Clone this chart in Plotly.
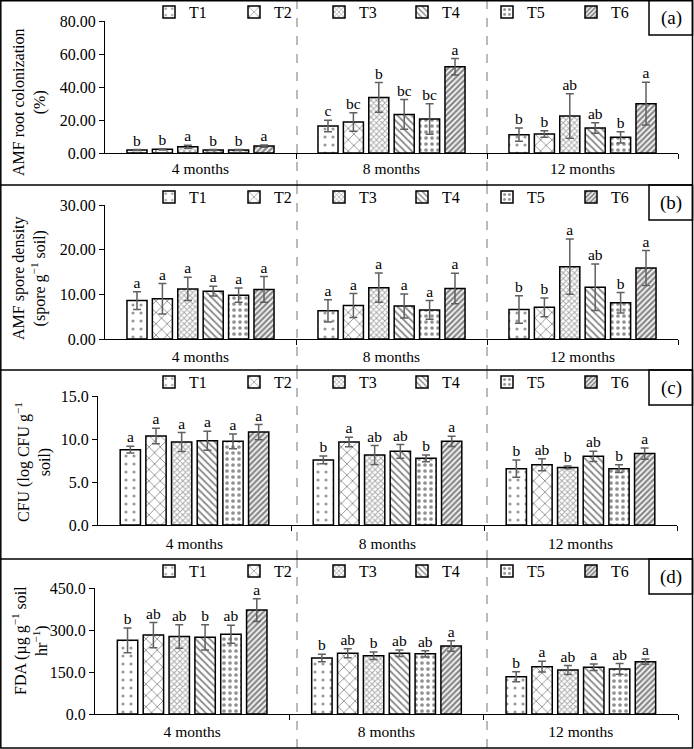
import plotly.graph_objects as go

W, H = 694, 749
FONT = "Liberation Serif, Times New Roman, serif"

months = ["4 months", "8 months", "12 months"]
treatments = ["T1", "T2", "T3", "T4", "T5", "T6"]

# (a) AMF root colonization (%) -- rows: T1..T6, columns: 4, 8, 12 months
a_mean = [[1.8, 16.4, 11.1], [2.2, 18.8, 11.5], [3.8, 33.7, 22.4],
          [1.8, 23.4, 15.2], [1.8, 20.6, 9.5], [4.2, 52.3, 29.9]]
a_err = [[0.3, 3.5, 4.0], [0.4, 5.6, 2.0], [0.9, 9.0, 13.5],
         [0.3, 9.0, 3.2], [0.3, 9.3, 3.4], [0.7, 5.0, 13.0]]
a_let = [["b", "c", "b"], ["b", "bc", "b"], ["a", "b", "ab"],
         ["b", "bc", "ab"], ["b", "bc", "b"], ["a", "a", "a"]]

# (b) AMF spore density
b_mean = [[8.6, 6.3, 6.6], [9.0, 7.5, 7.1], [11.2, 11.5, 16.2],
          [10.7, 7.4, 11.6], [9.8, 6.5, 8.1], [11.1, 11.3, 15.9]]
b_err = [[2.0, 2.5, 3.1], [3.4, 2.7, 2.1], [2.6, 3.3, 6.2],
         [1.1, 2.7, 5.2], [1.6, 2.1, 2.3], [2.9, 3.4, 3.9]]
b_let = [["a", "a", "b"], ["a", "a", "b"], ["a", "a", "a"],
         ["a", "a", "ab"], ["a", "a", "b"], ["a", "a", "a"]]

# (c) CFU
c_mean = [[8.76, 7.56, 6.55], [10.35, 9.65, 7.0], [9.65, 8.14, 6.7],
          [9.8, 8.57, 7.98], [9.73, 7.75, 6.55], [10.8, 9.73, 8.3]]
c_err = [[0.4, 0.45, 1.0], [0.9, 0.55, 0.7], [1.1, 1.1, 0.15],
         [1.1, 0.8, 0.6], [0.85, 0.4, 0.45], [0.9, 0.6, 0.65]]
c_let = [["a", "b", "b"], ["a", "a", "ab"], ["a", "ab", "b"],
         ["a", "ab", "ab"], ["a", "b", "b"], ["a", "a", "a"]]

# (d) FDA
d_mean = [[263, 200, 133], [282, 217, 169], [277, 208, 157],
          [274, 217, 167], [285, 215, 161], [371, 243, 187]]
d_err = [[44, 13, 18], [45, 16, 19], [42, 13, 16],
         [45, 12, 12], [32, 11, 19], [41, 19, 9]]
d_let = [["b", "b", "b"], ["ab", "ab", "a"], ["ab", "b", "ab"],
         ["b", "ab", "a"], ["ab", "ab", "ab"], ["a", "a", "a"]]

y_titles = ["AMF root colonization<br>(%)",
            "AMF spore density<br>(spore g<sup>\u22121</sup> soil)",
            "CFU (log CFU g<sup>\u22121</sup><br>soil)",
            "FDA (\u00b5g g<sup>\u22121</sup> soil<br>hr<sup>\u22121</sup>)"]
panel_labels = ["(a)", "(b)", "(c)", "(d)"]
y_max = [80, 30, 15, 450]
y_dtick = [20, 10, 5, 150]
y_fmt = [".2f", ".2f", ".1f", ".1f"]

# styles
patterns = [
    dict(shape=".", size=8, solidity=0.12, fgcolor="#333"),
    dict(shape="x", size=8, solidity=0.2, fgcolor="#111"),
    dict(shape="x", size=4, solidity=0.45, fgcolor="#555"),
    dict(shape="\\", size=5, solidity=0.35, fgcolor="#111"),
    dict(shape=".", size=6, solidity=0.3, fgcolor="#222"),
    dict(shape="/", size=4, solidity=0.6, fgcolor="#111"),
]
legend_x = [149, 234, 319, 402, 487, 571]   # pixel left of each legend entry

# layout geometry (pixels)
geo = [
    dict(x0=105, x1=678, y0=153, y1=21, top=0, bot=185, tx=30, ty=102, std=1),
    dict(x0=105, x1=678, y0=339, y1=205, top=185, bot=370, tx=29, ty=278, std=3),
    dict(x0=98, x1=677, y0=525, y1=396, top=370, bot=559, tx=33, ty=462, std=4),
    dict(x0=95, x1=678, y0=714, y1=588, top=559, bot=748, tx=30, ty=641, std=3),
]


def px(x):
    return x / W


def py(y):
    return 1 - y / H


PITCH, BW = 0.133, 0.105
means = [a_mean, b_mean, c_mean, d_mean]
errs = [a_err, b_err, c_err, d_err]
lets = [a_let, b_let, c_let, d_let]

fig = go.Figure()
layout = dict(template="none", width=W, height=H, autosize=False,
              margin=dict(l=0, r=0, t=0, b=0, pad=0, autoexpand=False),
              paper_bgcolor="white", plot_bgcolor="rgba(0,0,0,0)",
              barmode="overlay", font=dict(family=FONT, size=16, color="black"),
              shapes=[], annotations=[])

for p in range(4):
    sfx = "" if p == 0 else str(p + 1)
    xa, ya = "x" + sfx, "y" + sfx
    g = geo[p]
    for i, t in enumerate(treatments):
        k = p * 6 + i
        lg = "legend" if k == 0 else "legend%d" % (k + 1)
        xs = [m + (i - 2.5) * PITCH for m in range(len(months))]
        fig.add_trace(go.Bar(
            x=xs, y=means[p][i], width=BW, name=t, legend=lg, xaxis=xa, yaxis=ya,
            marker=dict(color="white", line=dict(color="black", width=1.5),
                        pattern=dict(bgcolor="white", fillmode="overlay", **patterns[i])),
            error_y=dict(type="data", array=errs[p][i], color="#606060",
                         thickness=1.5, width=4),
            showlegend=True, hoverinfo="skip"))
        fig.add_trace(go.Scatter(
            x=xs, y=[m + e for m, e in zip(means[p][i], errs[p][i])],
            text=lets[p][i], mode="text", textposition="top center",
            textfont=dict(family=FONT, size=15.5, color="black"),
            xaxis=xa, yaxis=ya, showlegend=False, cliponaxis=False, hoverinfo="skip"))
        layout[lg] = dict(orientation="h", xref="container", yref="container",
                          x=px(legend_x[i]), xanchor="left",
                          y=py(g["top"] + 12), yanchor="middle",
                          bgcolor="rgba(0,0,0,0)", borderwidth=0,
                          font=dict(family=FONT, size=16, color="black"))

    layout["xaxis" + sfx] = dict(
        domain=[px(g["x0"]), px(g["x1"])], range=[-0.5, 2.5], anchor=ya,
        automargin=False,
        tickmode="array", tickvals=list(range(len(months))), ticktext=months,
        ticks="", ticklabelstandoff=g["std"], showline=True, linecolor="black",
        linewidth=1.3, showgrid=False, zeroline=False,
        tickfont=dict(family=FONT, size=15.5, color="black"),
        minor=dict(tickmode="array", tickvals=[0.5, 1.5, 2.5], ticks="outside",
                   ticklen=5, tickwidth=1.3, tickcolor="black", showgrid=False))
    layout["yaxis" + sfx] = dict(
        domain=[py(g["y0"]), py(g["y1"])], range=[0, y_max[p]], anchor=xa,
        automargin=False,
        dtick=y_dtick[p], tick0=0, tickformat=y_fmt[p], ticks="outside", ticklen=5,
        tickwidth=1.3, tickcolor="black", showline=True, linecolor="black",
        linewidth=1.3, showgrid=False, zeroline=False,
        tickfont=dict(family=FONT, size=16, color="black"))
    # y title
    layout["annotations"].append(dict(
        text=y_titles[p], xref="paper", yref="paper", x=px(g["tx"]), y=py(g["ty"]),
        xanchor="center", yanchor="middle", textangle=-90, showarrow=False,
        font=dict(family=FONT, size=16, color="black")))
    # panel label box
    layout["shapes"].append(dict(type="rect", xref="paper", yref="paper",
                                 x0=px(649), x1=px(692.5), y0=py(g["top"]), y1=py(g["top"] + 35),
                                 line=dict(color="black", width=1.5)))
    layout["annotations"].append(dict(
        text=panel_labels[p], xref="paper", yref="paper", x=px(671), y=py(g["top"] + 18),
        xanchor="center", yanchor="middle", showarrow=False,
        font=dict(family=FONT, size=19, color="black")))
    # dashed separators
    for xs_ in (297, 487):
        layout["shapes"].append(dict(type="line", xref="paper", yref="paper",
                                     x0=px(xs_), x1=px(xs_), y0=py(g["top"]), y1=py(g["bot"]),
                                     line=dict(color="#777", width=1, dash="dash")))
    # panel separators
    if p > 0:
        layout["shapes"].append(dict(type="line", xref="paper", yref="paper",
                                     x0=0, x1=px(692.5), y0=py(g["top"]), y1=py(g["top"]),
                                     line=dict(color="black", width=1.5)))

layout["shapes"].append(dict(type="rect", xref="paper", yref="paper",
                             x0=px(0.8), x1=px(692.5), y0=py(0.8), y1=py(748),
                             line=dict(color="black", width=1.5)))

fig.update_layout(**layout)
fig.write_html("out.html")
